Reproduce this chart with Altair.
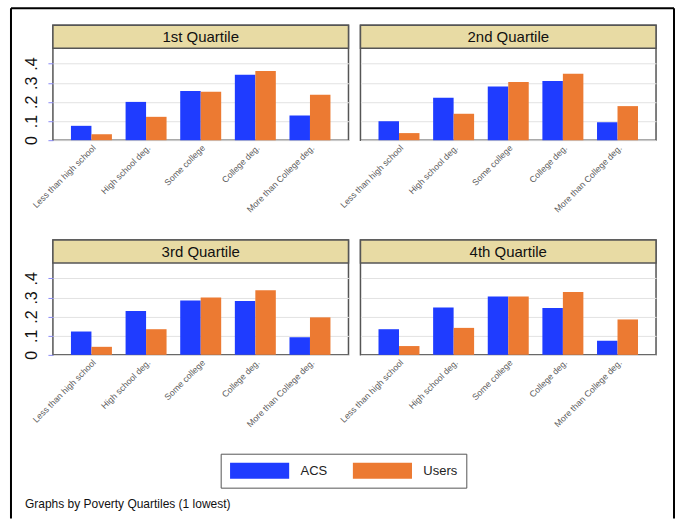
import altair as alt
import pandas as pd

education = ["Less than high school", "High school deg.", "Some college",
             "College deg.", "More than College deg."]
quartiles = ["1st Quartile", "2nd Quartile", "3rd Quartile", "4th Quartile"]
sources = ["ACS", "Users"]
caption = "Graphs by Poverty Quartiles (1 lowest)"

acs_q1 = [0.075, 0.200, 0.257, 0.342, 0.129]
users_q1 = [0.031, 0.122, 0.253, 0.361, 0.237]
acs_q2 = [0.099, 0.222, 0.281, 0.309, 0.094]
users_q2 = [0.037, 0.138, 0.304, 0.347, 0.178]
acs_q3 = [0.122, 0.229, 0.284, 0.282, 0.092]
users_q3 = [0.042, 0.134, 0.300, 0.338, 0.196]
acs_q4 = [0.134, 0.247, 0.305, 0.245, 0.074]
users_q4 = [0.046, 0.141, 0.305, 0.328, 0.185]

acs = [acs_q1, acs_q2, acs_q3, acs_q4]
users = [users_q1, users_q2, users_q3, users_q4]

rows = []
for qi, q in enumerate(quartiles):
    for ei, e in enumerate(education):
        rows.append({"quartile": q, "edu": e, "src": "ACS", "val": acs[qi][ei]})
        rows.append({"quartile": q, "edu": e, "src": "Users", "val": users[qi][ei]})
df = pd.DataFrame(rows)

BLUE = "#1f3cff"
ORANGE = "#ec7a32"
STRIP = "#e8dba4"
FONT = "Liberation Sans"
PW, HH, PH = 296, 23, 92

color = alt.Color(
    "src:N",
    scale=alt.Scale(domain=sources, range=[BLUE, ORANGE]),
    legend=alt.Legend(
        title=None, orient="none", direction="horizontal",
        legendX=168, legendY=429,
        strokeColor="#555555", padding=9,
        symbolType="M-3.7,-1H3.7V1H-3.7Z", symbolSize=256, symbolOffset=22,
        symbolStrokeWidth=0, symbolOpacity=1,
        labelFont=FONT, labelFontSize=13, labelColor="#222222",
        columnPadding=25, labelOffset=33, fillColor="white",
    ),
)

one = pd.DataFrame({"k": [0]})


def panel(q, show_y, with_frame=False):
    d = df[df.quartile == q]
    if show_y:
        yaxis = alt.Axis(
            values=[0, 0.1, 0.2, 0.3, 0.4],
            labelExpr="datum.value == 0 ? '0' : replace(format(datum.value, '.1f'), '0.', '.')",
            labelAngle=270, labelFont=FONT, labelFontSize=16, labelColor="#111111",
            tickColor="#8a8af5", tickSize=5, labelPadding=8, domain=False,
            grid=True, gridColor="#e2e2e2", title=None,
        )
    else:
        yaxis = alt.Axis(
            values=[0, 0.1, 0.2, 0.3, 0.4], labels=False, ticks=False, domain=False,
            grid=True, gridColor="#e2e2e2", title=None,
        )
    bars = alt.Chart(d).mark_bar().encode(
        x=alt.X("edu:N", sort=education,
                scale=alt.Scale(paddingInner=0.25, paddingOuter=0.33),
                axis=alt.Axis(labelAngle=-45, labelAlign="right", labelBaseline="top",
                              labelFont=FONT, labelFontSize=8.8, labelColor="#5a5a5a",
                              ticks=False, domain=False, title=None, labelPadding=3)),
        xOffset=alt.XOffset("src:N", sort=sources),
        y=alt.Y("val:Q", scale=alt.Scale(domain=[0, 0.48], nice=False,
                                          range=[HH + PH, HH]), axis=yaxis),
        color=color,
    )
    base = alt.Chart(one)
    strip = base.mark_rect(fill=STRIP, stroke="#555555", strokeWidth=1.5).encode(
        x=alt.value(0), x2=alt.value(PW), y=alt.value(0), y2=alt.value(HH))
    label = base.mark_text(font=FONT, fontSize=15, color="#111111",
                           baseline="middle", align="center").encode(
        x=alt.value(PW / 2), y=alt.value(HH / 2 + 0.5), text=alt.value(q))
    layers = [bars, strip, label]
    if with_frame:
        # outer frame of the graph region and the note under the graphs
        layers += [
            base.mark_rule(color="black", strokeWidth=2).encode(
                x=alt.value(-42), x2=alt.value(622), y=alt.value(-17)),
            base.mark_rule(color="black", strokeWidth=2).encode(
                x=alt.value(-42), y=alt.value(-17), y2=alt.value(494)),
            base.mark_rule(color="black", strokeWidth=2).encode(
                x=alt.value(622), y=alt.value(-17), y2=alt.value(494)),
            base.mark_text(font=FONT, fontSize=12, color="#111111", align="left",
                           baseline="middle").encode(
                x=alt.value(-28), y=alt.value(479), text=alt.value(caption)),
        ]
    return alt.layer(*layers).properties(
        width=PW, height=HH + PH,
        view=alt.ViewBackground(fill="white", stroke="#555555", strokeWidth=1.5),
    )


chart = alt.concat(
    panel(quartiles[0], True, with_frame=True),
    panel(quartiles[1], False),
    panel(quartiles[2], True),
    panel(quartiles[3], False),
    columns=2, spacing={"row": 100, "column": 12}, bounds="flush",
).properties(
    padding={"left": 9, "top": 6, "right": 0, "bottom": 0},
    background="white",
)

chart.save("out.html", embed_options={"renderer": "svg", "actions": False})
